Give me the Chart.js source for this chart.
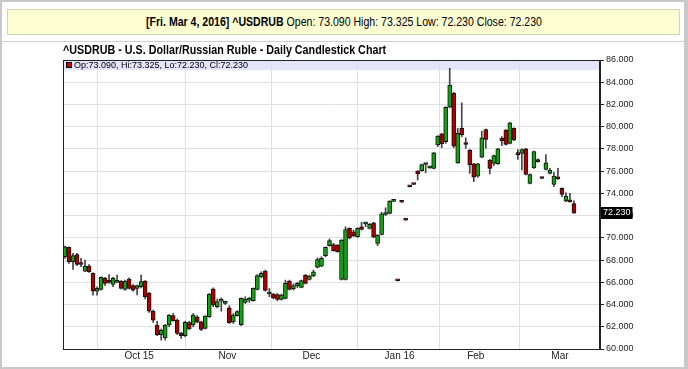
<!DOCTYPE html>
<html>
<head>
<meta charset="utf-8">
<script src="https://cdn.jsdelivr.net/npm/chart.js@4.4.1/dist/chart.umd.min.js"></script>
<style>
  html, body { margin: 0; padding: 0; background: #fff; }
  #wrap { position: relative; width: 688px; height: 369px; overflow: hidden; background: #fff; }
  #frame { position: absolute; left: 0; top: 0; width: 682px; height: 365px; border: 2px solid #c8c8c8; border-right-width: 4px; }
  #header { position: absolute; left: 7px; top: 9px; width: 671px; height: 24px; background: #fdfdd2; border: 1px solid #d4d4b0;
            font: 12px "Liberation Sans", Arial, sans-serif; color: #000; text-align: center; line-height: 24px; }
  #header span { display: inline-block; transform: scaleX(0.88); transform-origin: 50% 50%; white-space: nowrap; }
  #sep { position: absolute; left: 2px; top: 41px; width: 682px; height: 1px; background: #cfcfcf; }
  #title { position: absolute; left: 63px; top: 43px; font: bold 12px "Liberation Sans", Arial, sans-serif; color: #000;
           transform: scaleX(0.895); transform-origin: 0 50%; white-space: nowrap; }
  canvas { position: absolute; left: 0; top: 0; }
</style>
</head>
<body>
<div id="wrap">
  <canvas id="chart" width="688" height="369"></canvas>
  <div id="frame"></div>
  <div id="header"><span><b>[Fri. Mar 4, 2016] ^USDRUB</b> Open: 73.090 High: 73.325 Low: 72.230 Close: 72.230</span></div>
  <div id="sep"></div>
  <div id="title">^USDRUB - U.S. Dollar/Russian Ruble - Daily Candlestick Chart</div>
</div>
<script>
// trading days per month (Dec 25, Jan 1 and Jan 18 missing), last six are empty space on the right
const tradingDays = {
    '2015-09': [4,7,8,9,10,11,14,15,16,17,18,21,22,23,24,25,28,29,30],
    '2015-10': [1,2,5,6,7,8,9,12,13,14,15,16,19,20,21,22,23,26,27,28,29,30],
    '2015-11': [2,3,4,5,6,9,10,11,12,13,16,17,18,19,20,23,24,25,26,27,30],
    '2015-12': [1,2,3,4,7,8,9,10,11,14,15,16,17,18,21,22,23,24,28,29,30,31],
    '2016-01': [4,5,6,7,8,11,12,13,14,15,19,20,21,22,25,26,27,28,29],
    '2016-02': [1,2,3,4,5,8,9,10,11,12,15,16,17,18,19,22,23,24,25,26,29],
    '2016-03': [1,2,3,4,7,8,9,10,11,14]
};
const monthLabels = {'2015-10':'Oct 15','2015-11':'Nov','2015-12':'Dec','2016-01':'Jan 16','2016-02':'Feb','2016-03':'Mar'};

const opens = [68.30,69.15,67.86,68.50,67.65,67.00,67.45,66.80,65.20,65.37,66.36,66.05,65.82,66.00,66.12,65.37,66.27,65.70,65.46,
  65.60,66.12,65.00,63.40,62.16,61.30,61.00,62.16,63.00,62.60,61.40,61.20,62.37,62.16,62.90,62.45,61.86,62.90,65.40,63.80,64.30,64.10,
  63.70,62.46,63.00,62.20,64.20,64.40,64.35,65.37,66.50,67.00,64.95,64.95,64.90,64.47,64.56,66.10,65.40,65.67,65.55,66.66,66.26,
  66.57,67.35,67.45,68.40,69.30,69.40,69.35,66.25,66.25,70.85,70.55,70.10,71.00,71.25,70.85,71.35,69.50,70.30,72.10,72.20,73.28,66.16,
  73.22,71.62,74.62,74.82,76.00,76.05,76.60,76.30,76.25,78.35,79.35,78.65,81.75,83.00,76.75,79.85,78.45,77.90,76.65,
  75.55,77.25,79.75,77.00,76.70,76.65,78.95,79.70,78.50,79.85,77.50,77.60,78.00,74.90,76.30,77.05,75.36,76.15,75.80,74.80,75.50,
  74.45,73.30,73.40,73.09];
const highs = [69.25,69.20,68.60,68.60,68.15,68.00,67.60,66.85,65.60,66.50,66.45,66.70,66.45,66.66,66.15,66.20,66.40,65.80,65.76,
  66.66,66.15,65.10,63.50,62.50,61.80,62.20,63.10,63.20,62.70,61.50,62.50,62.50,63.20,63.00,62.50,63.00,65.00,65.50,64.50,64.60,64.30,
  63.90,63.20,63.45,64.60,64.70,64.65,65.50,66.70,66.95,67.10,65.45,65.00,65.00,64.95,66.20,66.20,65.85,66.00,66.20,66.70,66.65,
  67.10,68.20,68.30,69.20,69.90,69.50,69.40,69.85,71.00,70.90,70.70,70.90,71.40,71.35,71.30,71.40,70.30,72.30,72.70,73.35,73.35,66.18,
  73.24,71.64,74.64,74.84,76.05,76.65,76.70,76.45,77.70,79.20,79.40,81.80,85.25,83.10,79.85,82.15,79.00,77.95,76.70,
  76.70,79.60,79.80,77.05,77.45,78.05,79.10,79.75,80.40,79.90,77.95,78.00,78.05,75.75,77.80,77.10,75.38,77.50,76.25,75.90,76.25,
  74.50,74.05,74.00,73.325];
const lows = [68.15,67.70,67.17,67.50,67.40,66.95,66.90,64.85,64.85,65.30,65.70,65.90,65.60,65.98,65.40,65.30,65.40,65.20,64.86,
  65.50,64.50,63.30,62.40,61.20,60.80,60.80,62.00,62.50,61.30,60.95,61.10,61.75,62.00,62.35,61.65,61.80,62.85,63.80,63.70,63.40,64.00,
  62.30,62.30,62.95,62.10,64.10,64.20,64.30,65.30,66.40,65.20,64.70,64.50,64.35,64.40,64.50,65.30,65.30,65.50,65.50,65.85,66.20,
  66.50,67.30,67.40,68.30,69.25,68.80,68.70,66.20,66.20,69.90,70.10,70.05,70.70,71.00,70.80,70.00,69.30,70.25,72.00,72.15,73.25,66.12,
  73.18,71.58,74.58,74.78,75.20,76.00,75.85,76.25,76.20,78.20,78.10,78.50,81.70,78.10,76.70,79.10,78.05,75.80,75.05,
  75.45,77.20,78.05,75.75,76.50,76.60,78.30,78.35,78.45,78.75,77.05,76.10,75.65,74.85,76.25,76.80,75.32,76.10,75.75,74.60,75.25,
  73.70,73.25,73.20,72.23];
const closes = [69.20,67.86,68.40,67.60,67.60,67.45,66.95,65.20,65.45,66.45,65.91,66.00,66.36,66.02,65.46,66.12,65.46,65.30,65.70,
  66.06,64.70,63.40,62.60,61.30,61.70,62.15,63.06,62.55,61.40,61.20,62.40,61.80,63.06,62.42,61.77,62.97,64.95,63.96,64.26,64.40,64.12,
  62.37,63.06,63.36,64.55,64.50,64.42,65.45,66.60,66.80,65.28,64.97,64.60,64.45,64.85,65.90,65.35,65.70,65.90,66.15,65.90,66.56,
  66.95,68.05,68.15,69.15,69.75,68.85,68.75,69.80,70.75,70.00,70.20,70.85,70.75,71.30,71.22,70.05,70.25,72.15,72.15,73.30,73.32,66.14,
  73.20,71.60,74.60,74.80,75.75,76.60,76.62,76.40,77.65,79.15,78.45,81.75,83.75,78.25,79.40,79.25,78.40,76.55,75.45,
  76.65,79.00,78.86,76.25,77.40,78.00,78.75,78.40,80.35,78.80,77.48,77.95,75.70,75.70,77.75,76.85,75.34,76.75,76.10,75.55,75.30,
  73.90,73.75,73.25,72.23];

const yTicksMin = 60, yTicksMax = 86, yStep = 2;

// build the category list from the month tables
let dates = [];
Object.keys(tradingDays).forEach(m => {
    tradingDays[m].forEach(d => dates.push(m + '-' + String(d).padStart(2, '0')));
});

let wicks = dates.map((d, i) => i < opens.length ? [lows[i], highs[i]] : null);
let bodies = dates.map((d, i) => i < opens.length ? [opens[i], closes[i]] : null);
let bodyColors = opens.map((o, i) => closes[i] >= o ? '#16a016' : '#aa0000');

const font = '"Liberation Sans", Arial, sans-serif';

// lavender strip, legend text, plot frame and last price tag
const decorations = {
    id: 'decorations',
    beforeDraw(chart) {
        const a = chart.chartArea, ctx = chart.ctx;
        ctx.save();
        ctx.fillStyle = '#e4e4fa';
        ctx.fillRect(a.left, a.top, a.right - a.left, 10);
        ctx.restore();
    },
    afterDraw(chart) {
        const a = chart.chartArea, ctx = chart.ctx;
        const last = opens.length - 1;
        ctx.save();
        ctx.strokeStyle = '#222';
        ctx.lineWidth = 1;
        ctx.strokeRect(a.left + 0.5, a.top + 0.5, a.right - a.left - 1, a.bottom - a.top);
        // legend in the strip
        ctx.fillStyle = closes[last] >= opens[last] ? '#16a016' : '#cc0000';
        ctx.fillRect(a.left + 3, a.top + 2, 6, 6);
        ctx.strokeStyle = '#000';
        ctx.strokeRect(a.left + 3.5, a.top + 2.5, 5, 5);
        ctx.fillStyle = '#000';
        ctx.font = '9px ' + font;
        ctx.textBaseline = 'middle';
        ctx.fillText('Op:' + opens[last].toFixed(3) + ', Hi:' + highs[last].toFixed(3) + ', Lo:' + lows[last].toFixed(3) + ', Cl:' + closes[last].toFixed(3), a.left + 11, a.top + 5.5);
        // last close tag on the axis
        const y = chart.scales.y.getPixelForValue(closes[last]);
        const txt = closes[last].toFixed(3);
        ctx.font = '9px ' + font;
        const w = ctx.measureText(txt).width;
        ctx.fillStyle = '#000';
        ctx.fillRect(a.right + 1, Math.round(y) - 6, w + 4, 12);
        ctx.fillStyle = '#fff';
        ctx.fillText(txt, a.right + 3, Math.round(y));
        ctx.restore();
    }
};

new Chart(document.getElementById('chart'), {
    type: 'bar',
    data: {
        labels: dates,
        datasets: [
            {
                label: 'Body',
                data: bodies,
                backgroundColor: bodyColors,
                borderColor: '#111',
                borderWidth: 1,
                borderSkipped: false,
                barThickness: 4,
                minBarLength: 2,
                grouped: false,
                order: 1
            },
            {
                label: 'Wick',
                data: wicks,
                backgroundColor: '#444',
                borderWidth: 0,
                barThickness: 1,
                grouped: false,
                order: 2
            }
        ]
    },
    options: {
        responsive: false,
        animation: false,
        events: [],
        layout: { padding: { left: 63, top: 60, right: 8, bottom: 0 } },
        plugins: { legend: { display: false }, tooltip: { enabled: false } },
        scales: {
            x: {
                afterFit(scale) { scale.height = 20; },
                grid: { color: '#e0e0e0', offset: true, drawTicks: false },
                border: { display: false },
                ticks: {
                    autoSkip: false,
                    maxRotation: 0,
                    padding: 1,
                    labelOffset: -2,
                    color: '#222',
                    font: { size: 10, family: font },
                    callback(v, i) {
                        const m = dates[i].slice(0, 7);
                        if (i === 0 || dates[i - 1].slice(0, 7) === m) return null;
                        return monthLabels[m];
                    }
                }
            },
            y: {
                position: 'right',
                min: yTicksMin,
                max: yTicksMax,
                afterFit(scale) { scale.width = 80; },
                grid: { color: '#e0e0e0', tickLength: 4, tickColor: '#222' },
                border: { display: true, color: '#222' },
                ticks: {
                    stepSize: yStep,
                    padding: 2,
                    color: '#222',
                    font: { size: 9, family: font },
                    callback: v => v.toFixed(3)
                }
            }
        }
    },
    plugins: [decorations]
});
</script>
</body>
</html>
